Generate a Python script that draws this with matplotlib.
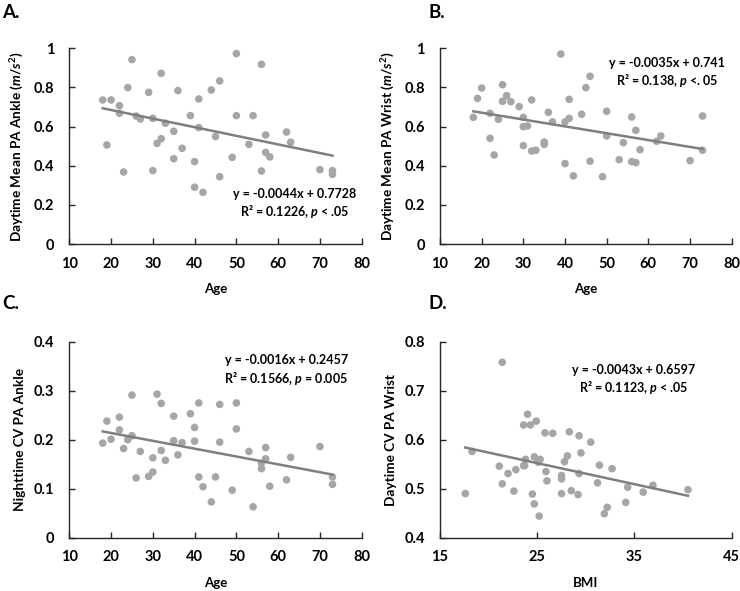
import matplotlib.pyplot as plt
import numpy as np

plt.rcParams['font.family'] = ['Lato', 'DejaVu Sans']
plt.rcParams['font.weight'] = 'bold'
plt.rcParams['mathtext.fontset'] = 'custom'
plt.rcParams['mathtext.rm'] = 'Lato:bold'
plt.rcParams['mathtext.it'] = 'Lato:bold:italic'
plt.rcParams['mathtext.bf'] = 'Lato:bold'

# Panel A: age vs daytime mean PA ankle
age_a = [18, 20, 19, 22, 22, 23, 24, 25, 26, 27, 29, 30, 30, 31, 32, 32, 33, 35, 35,
         36, 37, 39, 40, 40, 41, 41, 42, 44, 45, 46, 46, 49, 50, 50, 53, 54, 56, 56,
         57, 57, 58, 62, 63, 70, 73, 73]
pa_ankle = [0.736, 0.736, 0.506, 0.707, 0.668, 0.368, 0.799, 0.942, 0.654, 0.639,
            0.775, 0.642, 0.375, 0.514, 0.538, 0.872, 0.617, 0.576, 0.436, 0.784,
            0.489, 0.656, 0.421, 0.290, 0.741, 0.595, 0.264, 0.787, 0.549, 0.833,
            0.344, 0.443, 0.973, 0.656, 0.509, 0.656, 0.918, 0.373, 0.557, 0.468,
            0.445, 0.572, 0.520, 0.380, 0.375, 0.356]

# Panel B: age vs daytime mean PA wrist
age_b = [18, 19, 20, 22, 22, 23, 24, 25, 25, 26, 27, 29, 30, 30, 31, 30, 32, 32, 33,
         35, 35, 36, 37, 39, 40, 40, 41, 41, 42, 44, 45, 46, 46, 49, 50, 50, 53, 54,
         56, 56, 57, 57, 58, 62, 63, 70, 73, 73]
pa_wrist = [0.647, 0.744, 0.797, 0.668, 0.540, 0.455, 0.637, 0.814, 0.729, 0.758,
            0.727, 0.702, 0.647, 0.600, 0.603, 0.503, 0.736, 0.475, 0.479, 0.521,
            0.509, 0.673, 0.624, 0.971, 0.624, 0.411, 0.739, 0.642, 0.348, 0.663,
            0.799, 0.857, 0.423, 0.344, 0.678, 0.552, 0.431, 0.518, 0.649, 0.421,
            0.416, 0.581, 0.482, 0.525, 0.552, 0.426, 0.654, 0.479]

# Panel C: age vs nighttime CV PA ankle
age_c = [18, 19, 20, 22, 22, 23, 24, 25, 25, 26, 27, 29, 30, 30, 31, 32, 32, 33, 35,
         35, 36, 37, 39, 40, 40, 41, 41, 42, 44, 45, 46, 46, 49, 50, 50, 53, 54, 56,
         56, 57, 57, 58, 62, 63, 70, 73, 73]
cv_ankle = [0.193, 0.238, 0.201, 0.246, 0.220, 0.182, 0.200, 0.291, 0.208, 0.122,
            0.176, 0.125, 0.163, 0.134, 0.293, 0.274, 0.178, 0.158, 0.248, 0.198,
            0.169, 0.194, 0.253, 0.225, 0.197, 0.275, 0.124, 0.104, 0.073, 0.124,
            0.272, 0.195, 0.097, 0.275, 0.222, 0.176, 0.063, 0.152, 0.141, 0.184,
            0.161, 0.105, 0.118, 0.164, 0.186, 0.124, 0.109]

# Panel D: BMI vs daytime CV PA wrist
bmi = [17.6, 18.3, 21.4, 21.1, 21.4, 22.0, 22.6, 22.8, 23.6, 23.6, 23.8, 23.7, 24.0,
       24.3, 24.5, 24.7, 24.7, 24.9, 25.1, 25.3, 25.2, 25.8, 25.9, 26.0, 26.6, 27.5,
       27.5, 27.5, 27.8, 28.1, 28.3, 28.5, 29.2, 29.3, 29.3, 29.5, 30.5, 31.2, 31.4,
       31.9, 32.2, 32.7, 34.1, 34.3, 35.9, 36.9, 40.5]
cv_wrist = [0.490, 0.576, 0.758, 0.546, 0.510, 0.531, 0.495, 0.539, 0.630, 0.547,
            0.560, 0.547, 0.652, 0.630, 0.489, 0.469, 0.565, 0.638, 0.554, 0.560,
            0.444, 0.614, 0.535, 0.516, 0.613, 0.527, 0.520, 0.490, 0.555, 0.567,
            0.616, 0.496, 0.488, 0.608, 0.531, 0.573, 0.595, 0.512, 0.548, 0.449,
            0.462, 0.541, 0.472, 0.503, 0.493, 0.507, 0.498]

panels = [
    dict(letter='A.', x=age_a, y=pa_ankle, slope=-0.0044, icpt=0.7728,
         xlim=(10, 80), xticks=[10, 20, 30, 40, 50, 60, 70, 80],
         ylim=(0, 1), yticks=[0, 0.2, 0.4, 0.6, 0.8, 1],
         ylabels=['0', '0.2', '0.4', '0.6', '0.8', '1'],
         xlabel='Age', ylabel=r'Daytime Mean PA Ankle ($\mathit{m/s^2}$)',
         eq='y = -0.0044x + 0.7728', r2=r'R² = 0.1226, $\mathit{p}$ < .05',
         txt=(64, 0.254, 0.165)),
    dict(letter='B.', x=age_b, y=pa_wrist, slope=-0.0035, icpt=0.741,
         xlim=(10, 80), xticks=[10, 20, 30, 40, 50, 60, 70, 80],
         ylim=(0, 1), yticks=[0, 0.2, 0.4, 0.6, 0.8, 1],
         ylabels=['0', '0.2', '0.4', '0.6', '0.8', '1'],
         xlabel='Age', ylabel=r'Daytime Mean PA Wrist ($\mathit{m/s^2}$)',
         eq='y = -0.0035x + 0.741', r2=r'R² = 0.138, $\mathit{p}$ <. 05',
         txt=(64.4, 0.923, 0.833)),
    dict(letter='C.', x=age_c, y=cv_ankle, slope=-0.0016, icpt=0.2457,
         xlim=(10, 80), xticks=[10, 20, 30, 40, 50, 60, 70, 80],
         ylim=(0, 0.4), yticks=[0, 0.1, 0.2, 0.3, 0.4],
         ylabels=['0', '0.1', '0.2', '0.3', '0.4'],
         xlabel='Age', ylabel='Nighttime CV PA Ankle',
         eq='y = -0.0016x + 0.2457', r2=r'R² = 0.1566, $\mathit{p}$ = 0.005',
         txt=(62, 0.3626, 0.325)),
    dict(letter='D.', x=bmi, y=cv_wrist, slope=-0.0043, icpt=0.6597,
         xlim=(15, 45), xticks=[15, 25, 35, 45],
         ylim=(0.4, 0.8), yticks=[0.4, 0.5, 0.6, 0.7, 0.8],
         ylabels=['0.4', '0.5', '0.6', '0.7', '0.8'],
         xlabel='BMI', ylabel='Daytime CV PA Wrist',
         eq='y = -0.0043x + 0.6597', r2=r'R² = 0.1123, $\mathit{p}$ < .05',
         txt=(34.9, 0.742, 0.707)),
]

# axes boxes in figure pixels: left, top, right, bottom
boxes = [(69.3, 48.3, 361.7, 244.0), (440.0, 48.3, 731.7, 244.0),
         (69.3, 341.7, 361.7, 537.7), (440.0, 341.7, 731.7, 537.7)]
letter_pos = [(2, 12), (428, 12), (2, 304), (428, 304)]

W, H = 740, 591
fig = plt.figure(figsize=(W / 100, H / 100), dpi=100)

for p, (l, t, r, b), (lx, ly) in zip(panels, boxes, letter_pos):
    ax = fig.add_axes([l / W, 1 - b / H, (r - l) / W, (b - t) / H])
    ax.scatter(p['x'], p['y'], s=30, color='#A6A6A6', edgecolors='none', zorder=2)
    xs = np.array([min(p['x']), max(p['x'])])
    ax.plot(xs, p['slope'] * xs + p['icpt'], color='#7F7F7F', lw=1.8, zorder=3)

    ax.set_xlim(*p['xlim'])
    ax.set_ylim(*p['ylim'])
    ax.set_xticks(p['xticks'])
    ax.set_yticks(p['yticks'])
    ax.set_yticklabels(p['ylabels'])
    for s in ['top', 'right']:
        ax.spines[s].set_visible(False)
    for s in ['left', 'bottom']:
        ax.spines[s].set_color('#262626')
        ax.spines[s].set_linewidth(1)
    ax.tick_params(direction='in', length=4, width=1, color='#262626',
                   labelsize=10.5, labelcolor='black')
    ax.tick_params(axis='x', pad=9)
    ax.tick_params(axis='y', pad=11)

    ax.set_xlabel(p['xlabel'], fontsize=9.5, fontweight='bold')
    ax.xaxis.set_label_coords(0.5, -0.2)
    ax.set_ylabel(p['ylabel'], fontsize=9.8, fontweight='bold')
    ax.yaxis.set_label_coords(-0.148, 0.5)

    tx, ty1, ty2 = p['txt']
    ax.text(tx, ty1, p['eq'], ha='center', va='center', fontsize=9, fontweight='bold')
    ax.text(tx, ty2, p['r2'], ha='center', va='center', fontsize=9, fontweight='bold')

    fig.text(lx / W, 1 - ly / H, p['letter'], ha='left', va='center',
             fontsize=13.5, fontweight='bold')

fig.savefig('out.png', dpi=100)
